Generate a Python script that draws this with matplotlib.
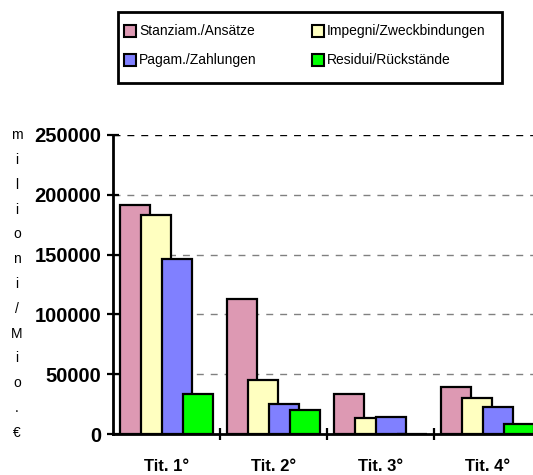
import matplotlib.pyplot as plt
from matplotlib.patches import Rectangle
import numpy as np

plt.rcParams['font.family'] = ['Liberation Sans', 'DejaVu Sans']

groups = ["Tit. 1°", "Tit. 2°", "Tit. 3°", "Tit. 4°"]
series = ["Stanziam./Ansätze", "Impegni/Zweckbindungen",
          "Pagam./Zahlungen", "Residui/Rückstände"]
stanziamenti = [191500, 112600, 33700, 39300]
impegni = [183100, 44900, 13100, 30400]
pagamenti = [146300, 25300, 14000, 22600]
residui = [33700, 19800, 0, 8600]
colors = ["#DD99B3", "#FFFFC0", "#8080FF", "#00FF00"]
y_label = "milioni/Mio.€"

W, H = 533, 475
fig = plt.figure(figsize=(W / 100, H / 100), dpi=100)
ax = fig.add_axes([113 / W, 1 - 434 / H, 1 - 113 / W, (434 - 135) / H])

values = [stanziamenti, impegni, pagamenti, residui]
bar_w = 0.28
step = 0.196
x0 = np.arange(len(groups)) + 0.065
for i, (vals, col) in enumerate(zip(values, colors)):
    ax.bar(x0 + i * step, vals, width=bar_w, align='edge', color=col,
           edgecolor='black', linewidth=1.6, zorder=3 + i)

ax.set_xlim(0, (W - 113) / 107)
ax.set_ylim(0, 250000)

# dashed grid lines
for y in range(50000, 250001, 50000):
    c = 'black' if y == 250000 else '#808080'
    ax.axhline(y, color=c, linestyle=(0, (5, 5)), linewidth=1.0, zorder=1)

for s in ['top', 'right']:
    ax.spines[s].set_visible(False)
for s in ['left', 'bottom']:
    ax.spines[s].set_linewidth(2)

ax.set_yticks(range(0, 250001, 50000))
ax.set_yticklabels([str(v) for v in range(0, 250001, 50000)],
                   fontsize=14.5, fontweight='bold')
ax.set_xticks(np.arange(1, len(groups)))
ax.set_xticklabels([])
ax.tick_params(axis='both', direction='inout', length=9, width=1.6)
ax.tick_params(axis='y', pad=4)

for i, g in enumerate(groups):
    ax.text(i + 0.5, -0.108, g, transform=ax.get_xaxis_transform(),
            ha='center', va='center', fontsize=12, fontweight='bold')

# stacked vertical unit label
n = len(y_label)
for k, ch in enumerate(y_label):
    yp = 135 + k * (433 - 135) / (n - 1)
    fig.text(17 / W, 1 - yp / H, ch, ha='center', va='center', fontsize=10)

# legend box
fig.patches.append(Rectangle((118 / W, 1 - 83 / H), (502 - 118) / W, (83 - 12) / H,
                             transform=fig.transFigure, facecolor='white',
                             edgecolor='black', linewidth=2))
pos = [(124, 31), (312, 31), (124, 60), (312, 60)]
for (px, py), name, col in zip(pos, series, colors):
    fig.patches.append(Rectangle((px / W, 1 - (py + 6) / H), 12 / W, 12 / H,
                                 transform=fig.transFigure, facecolor=col,
                                 edgecolor='black', linewidth=1.5))
    fig.text((px + 15) / W, 1 - py / H, name, ha='left', va='center', fontsize=10)

fig.savefig("out.png", dpi=100)
